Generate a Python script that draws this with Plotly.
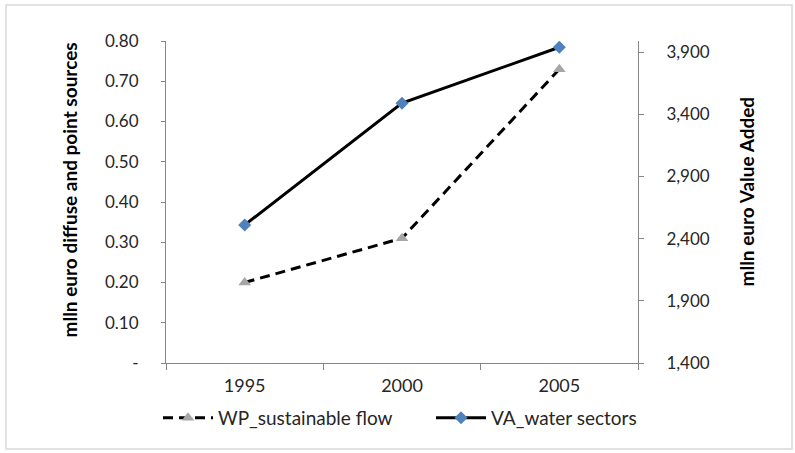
import plotly.graph_objects as go

years = ["1995", "2000", "2005"]
wp_sustainable_flow = [0.20, 0.31, 0.73]
va_water_sectors = [2510, 3490, 3940]

left_tickvals = [0, 0.1, 0.2, 0.3, 0.4, 0.5, 0.6, 0.7, 0.8]
left_ticktext = ["-", "0.10", "0.20", "0.30", "0.40", "0.50", "0.60", "0.70", "0.80"]
right_tickvals = [1400, 1900, 2400, 2900, 3400, 3900]
right_ticktext = ["1,400", "1,900", "2,400", "2,900", "3,400", "3,900"]

FONT = "Lato"
AX = "#868686"
TXT = "#262626"

fig = go.Figure()
fig.add_trace(go.Scatter(
    x=years, y=wp_sustainable_flow, name="WP_sustainable flow", mode="lines+markers",
    line=dict(color="black", width=3, dash="10px,6px"),
    marker=dict(symbol="triangle-up", color="#a6a6a6", size=11),
    yaxis="y", legend="legend"))
fig.add_trace(go.Scatter(
    x=years, y=va_water_sectors, name="VA_water sectors", mode="lines+markers",
    line=dict(color="black", width=3),
    marker=dict(symbol="diamond", color="#4f81bd", size=10),
    yaxis="y2", legend="legend2"))

W, H = 795, 453
L, R, T, B = 166, 638, 41, 363

def px2x(p):
    return (p - L) / (R - L)

def px2y(p):
    return (B - p) / (B - T)

def legend_at(xpx):
    return dict(orientation="h", xref="paper", yref="paper",
                x=px2x(xpx), xanchor="left", y=px2y(418), yanchor="middle",
                font=dict(size=19, color=TXT), itemwidth=50,
                bgcolor="rgba(0,0,0,0)")

fig.update_layout(
    width=W, height=H,
    margin=dict(l=L, r=W - R, t=T, b=H - B, autoexpand=False),
    paper_bgcolor="white", plot_bgcolor="white",
    font=dict(family=FONT, size=17, color=TXT),
    showlegend=True,
    legend=legend_at(158),
    legend2=legend_at(431),
    xaxis=dict(type="category", range=[-0.5, 2.5], tickson="boundaries",
               showline=True, linecolor=AX, linewidth=1, ticks="outside",
               tickcolor=AX, ticklen=6, showgrid=False, zeroline=False,
               ticklabelstandoff=6, tickfont=dict(size=18, color=TXT)),
    yaxis=dict(range=[0, 0.8], tickvals=left_tickvals, ticktext=left_ticktext,
               showline=True, linecolor=AX, linewidth=1, ticks="outside",
               tickcolor=AX, ticklen=4, showgrid=False, zeroline=False,
               ticklabelstandoff=19, tickfont=dict(size=17, color=TXT)),
    yaxis2=dict(overlaying="y", side="right", range=[1400, 3990],
                tickvals=right_tickvals, ticktext=right_ticktext,
                showline=True, linecolor=AX, linewidth=1, ticks="outside",
                tickcolor=AX, ticklen=5, showgrid=False, zeroline=False,
                ticklabelstandoff=19, tickfont=dict(size=17, color=TXT)),
    annotations=[
        dict(text="<b>mlln euro diffuse and point sources</b>", textangle=-90,
             x=px2x(55), y=px2y(190), xref="paper", yref="paper",
             showarrow=False, font=dict(size=19, color="black")),
        dict(text="<b>mlln euro Value Added</b>", textangle=-90,
             x=px2x(759), y=px2y(192), xref="paper", yref="paper",
             showarrow=False, font=dict(size=19, color="black")),
    ],
    shapes=[dict(type="rect", xref="paper", yref="paper",
                 x0=px2x(6), x1=px2x(792), y0=px2y(449), y1=px2y(5),
                 line=dict(color="#d9d9d9", width=1.5), layer="below")],
)

fig.write_html("out.html", config={"displayModeBar": False},
               post_script="document.body.style.margin='0';")
